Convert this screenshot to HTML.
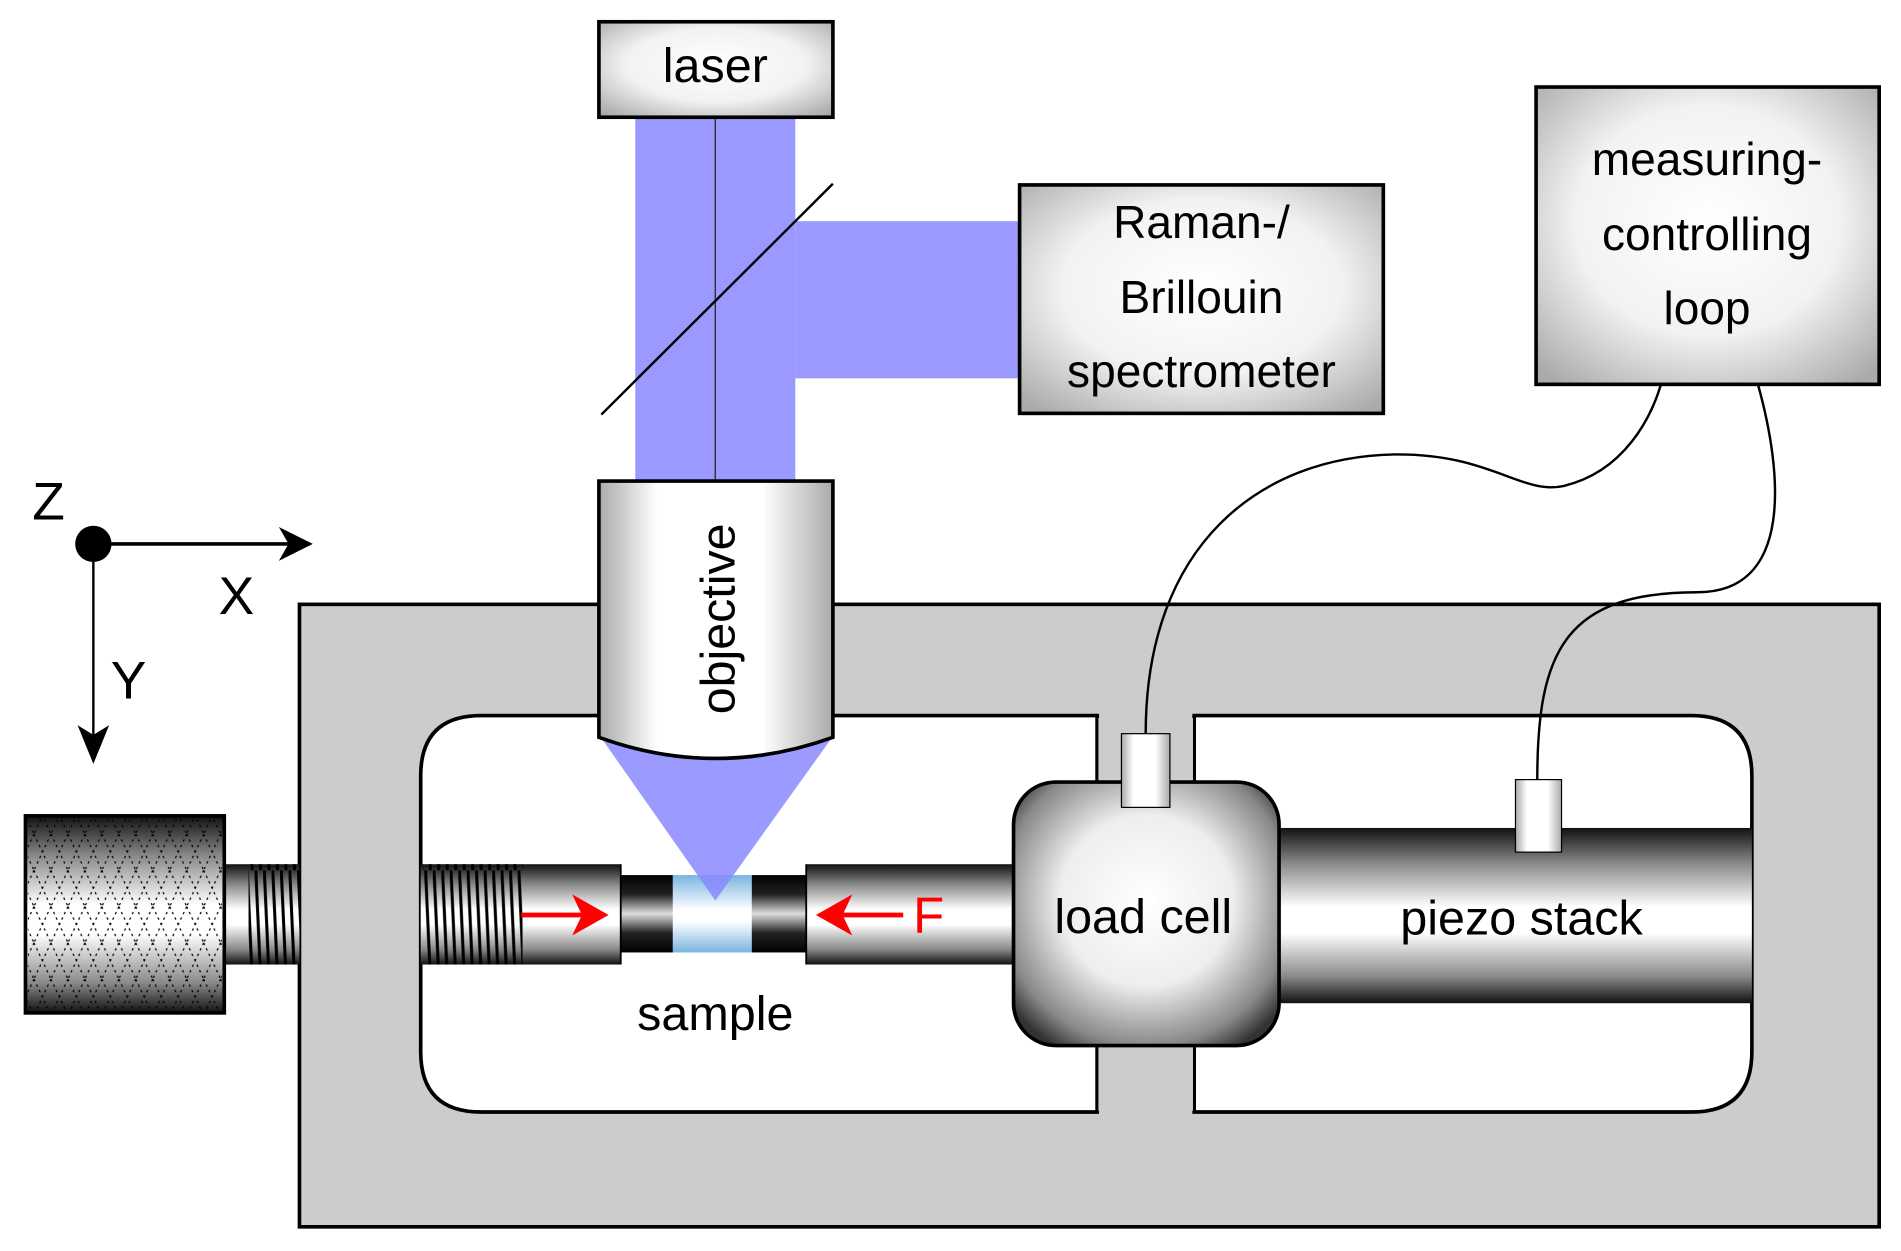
<!DOCTYPE html>
<html><head><meta charset="utf-8"><style>
html,body{margin:0;padding:0;background:#fff;}
svg{display:block;}
text{font-family:"Liberation Sans Narrow","Liberation Sans",sans-serif;fill:#000;}
</style></head><body>
<svg width="1901" height="1251" viewBox="0 0 1568 1035" preserveAspectRatio="none" xmlns="http://www.w3.org/2000/svg">
<defs>
<linearGradient id="cylV" x1="0" y1="0" x2="0" y2="1">
<stop offset="0" stop-color="#111"/><stop offset="0.2" stop-color="#888"/><stop offset="0.45" stop-color="#fff"/><stop offset="0.6" stop-color="#fff"/><stop offset="0.85" stop-color="#888"/><stop offset="1" stop-color="#111"/>
</linearGradient>
<linearGradient id="cylD" x1="0" y1="0" x2="0" y2="1">
<stop offset="0" stop-color="#000"/><stop offset="0.25" stop-color="#222"/><stop offset="0.5" stop-color="#ddd"/><stop offset="0.75" stop-color="#222"/><stop offset="1" stop-color="#000"/>
</linearGradient>
<linearGradient id="cylH" x1="0" y1="0" x2="1" y2="0">
<stop offset="0" stop-color="#aaa"/><stop offset="0.25" stop-color="#fff"/><stop offset="0.7" stop-color="#fff"/><stop offset="1" stop-color="#aaa"/>
</linearGradient>
<linearGradient id="sampG" x1="0" y1="0" x2="0" y2="1">
<stop offset="0" stop-color="#7ab4e0"/><stop offset="0.45" stop-color="#fff"/><stop offset="0.6" stop-color="#fff"/><stop offset="1" stop-color="#7ab4e0"/>
</linearGradient>
<radialGradient id="boxG" cx="0.5" cy="0.45" r="0.7">
<stop offset="0" stop-color="#fff"/><stop offset="0.55" stop-color="#f2f2f2"/><stop offset="1" stop-color="#aaa"/>
</radialGradient>
<radialGradient id="lcG" cx="0.5" cy="0.45" r="0.65">
<stop offset="0" stop-color="#fff"/><stop offset="0.5" stop-color="#eee"/><stop offset="0.85" stop-color="#888"/><stop offset="1" stop-color="#333"/>
</radialGradient>
<pattern id="knurl" width="14" height="30" patternUnits="userSpaceOnUse">
<path d="M0,0 L7,15 L0,30 M14,0 L7,15 L14,30" stroke="#000" stroke-width="1" stroke-dasharray="2,3" fill="none"/>
</pattern>
<pattern id="thread" width="7" height="90" patternUnits="userSpaceOnUse">
<line x1="1" y1="0" x2="5" y2="90" stroke="#000" stroke-width="2.5"/>
</pattern>
</defs>

<rect x="524" y="97" width="132" height="305" fill="#9999ff"/>
<rect x="656" y="183" width="186" height="130" fill="#9999ff"/>
<line x1="590" y1="97" x2="590" y2="400" stroke="#333" stroke-width="1.2"/>
<line x1="496" y1="343" x2="687" y2="152" stroke="#000" stroke-width="2"/>

<rect x="494" y="18" width="193" height="79" fill="url(#boxG)" stroke="#000" stroke-width="3"/>
<text x="590" y="68" font-size="40" text-anchor="middle">laser</text>

<rect x="841" y="153" width="300" height="189" fill="url(#boxG)" stroke="#000" stroke-width="3"/>
<text x="991" y="197" font-size="38" text-anchor="middle">Raman-/</text>
<text x="991" y="259" font-size="38" text-anchor="middle">Brillouin</text>
<text x="991" y="320" font-size="38" text-anchor="middle">spectrometer</text>

<rect x="1267" y="72" width="283" height="246" fill="url(#boxG)" stroke="#000" stroke-width="3"/>
<text x="1408" y="145" font-size="38" text-anchor="middle">measuring-</text>
<text x="1408" y="207" font-size="38" text-anchor="middle">controlling</text>
<text x="1408" y="268" font-size="38" text-anchor="middle">loop</text>

<circle cx="77" cy="450" r="15" fill="#000"/>
<line x1="77" y1="450" x2="240" y2="450" stroke="#000" stroke-width="3"/>
<polygon points="258,450 230,436 238,450 230,464" fill="#000"/>
<line x1="77" y1="450" x2="77" y2="612" stroke="#000" stroke-width="2"/>
<polygon points="77,632 64,600 77,608 90,600" fill="#000"/>
<text x="40" y="430" font-size="44" text-anchor="middle">Z</text>
<text x="195" y="508" font-size="44" text-anchor="middle">X</text>
<text x="106" y="578" font-size="44" text-anchor="middle">Y</text>

<rect x="247" y="500" width="1303" height="515" fill="#cccccc" stroke="#000" stroke-width="3"/>
<path d="M905,592 L397,592 Q347,592 347,642 L347,870 Q347,920 397,920 L905,920 Z" fill="#fff" stroke="#000" stroke-width="3"/>
<path d="M985,592 L1395,592 Q1445,592 1445,642 L1445,870 Q1445,920 1395,920 L985,920 Z" fill="#fff" stroke="#000" stroke-width="3"/>
<line x1="905" y1="592" x2="905" y2="920" stroke="#000" stroke-width="3"/>
<line x1="985" y1="592" x2="985" y2="920" stroke="#000" stroke-width="3"/>
<rect x="906" y="594" width="78" height="325" fill="#cccccc"/>

<rect x="185" y="715" width="62" height="83" fill="url(#cylV)"/>
<rect x="205" y="715" width="42" height="83" fill="url(#thread)"/>
<rect x="21" y="675" width="164" height="163" fill="url(#cylV)" stroke="#000" stroke-width="3"/>
<rect x="23" y="677" width="160" height="159" fill="url(#knurl)"/>

<rect x="347" y="715" width="165" height="83" fill="url(#cylV)"/>
<rect x="349" y="715" width="82" height="83" fill="url(#thread)"/>
<rect x="512" y="724" width="43" height="64" fill="url(#cylD)"/>
<rect x="620" y="724" width="45" height="64" fill="url(#cylD)"/>
<rect x="555" y="724" width="65" height="64" fill="url(#sampG)"/>
<rect x="665" y="715" width="171" height="83" fill="url(#cylV)"/>
<line x1="512" y1="715" x2="512" y2="798" stroke="#000" stroke-width="1.5"/>
<line x1="665" y1="715" x2="665" y2="798" stroke="#000" stroke-width="1.5"/>

<polygon points="497,612 685,612 590,745" fill="#8888ff" opacity="0.85"/>

<path d="M494,398 L687,398 L687,610 Q590,645 494,610 Z" fill="url(#cylH)" stroke="#000" stroke-width="3"/>
<text transform="translate(606,512) rotate(-90)" font-size="40" text-anchor="middle">objective</text>

<line x1="430" y1="757" x2="480" y2="757" stroke="#f00" stroke-width="4"/>
<polygon points="502,757 472,740 480,757 472,774" fill="#f00"/>
<line x1="745" y1="757" x2="695" y2="757" stroke="#f00" stroke-width="4"/>
<polygon points="673,757 703,740 695,757 703,774" fill="#f00"/>
<text x="766" y="772" font-size="42" text-anchor="middle" style="fill:#f00">F</text>

<text x="590" y="852" font-size="40" text-anchor="middle">sample</text>

<rect x="1055" y="685" width="390" height="145" fill="url(#cylV)"/>
<text x="1255" y="773" font-size="40" text-anchor="middle">piezo stack</text>
<rect x="1250" y="645" width="38" height="60" fill="url(#cylH)" stroke="#000" stroke-width="1"/>

<rect x="836" y="647" width="219" height="218" rx="35" fill="url(#lcG)" stroke="#000" stroke-width="3"/>
<rect x="925" y="607" width="40" height="61" fill="url(#cylH)" stroke="#000" stroke-width="1"/>
<text x="943" y="772" font-size="40" text-anchor="middle">load cell</text>

<path d="M945,607 C945,450 1040,378 1150,376 C1230,375 1255,410 1290,402 C1340,390 1362,345 1370,318" fill="none" stroke="#000" stroke-width="2"/>
<path d="M1268,645 C1268,540 1290,490 1400,490 C1480,490 1470,390 1450,318" fill="none" stroke="#000" stroke-width="2"/>
</svg>
</body></html>
